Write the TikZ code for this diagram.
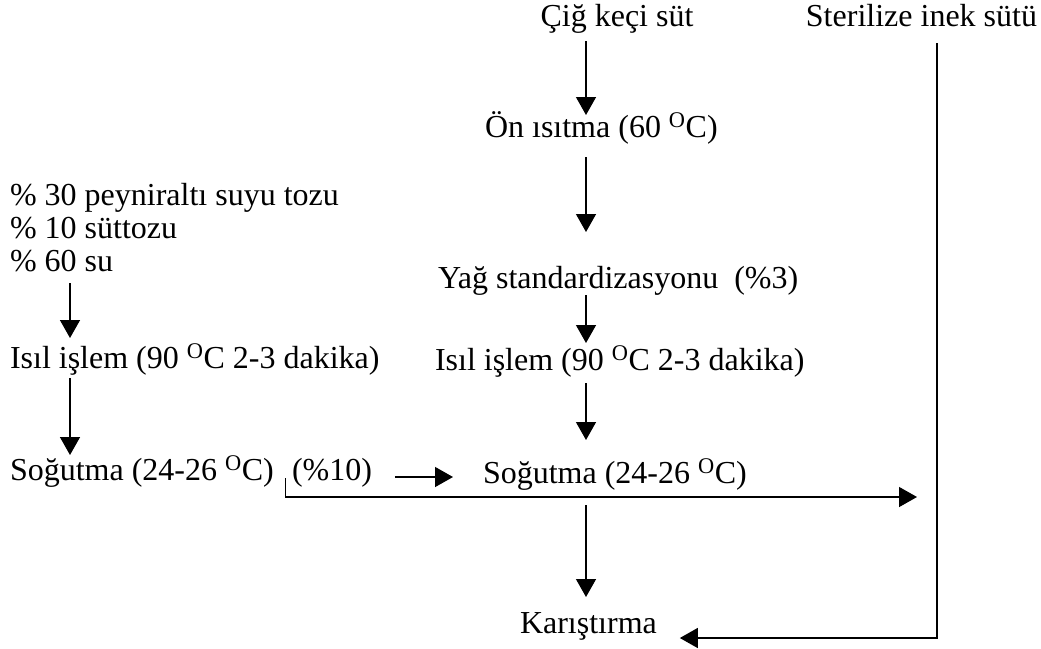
\documentclass[tikz,border=0pt]{standalone}
\usepackage{fontspec}
\setmainfont{Liberation Serif}
\usetikzlibrary{arrows.meta,calc}
\begin{document}
\begin{tikzpicture}[x=1pt,y=1pt,
  lbl/.style={inner sep=0pt,outer sep=0pt,font=\fontsize{32}{34}\selectfont},
  arr/.style={line width=1.4pt,-{Triangle[width=20pt,length=18pt]}},
  ln/.style={line width=1.4pt}]
\useasboundingbox (0,0) rectangle (1041,-648);
% column reference coordinates
\coordinate (cx) at (586,0);
\coordinate (lx) at (70,0);
\coordinate (rx) at (937,0);
% texts
\node[lbl,anchor=base] (cig) at (617,-26) {Çiğ keçi süt};
\node[lbl,anchor=base east] (ster) at (1037,-26) {Sterilize inek sütü};
\node[lbl,anchor=base west] (on) at (485,-137) {Ön ısıtma (60 \textsuperscript{O}C)};
\node[lbl,anchor=base west] (p30) at (10,-205) {\% 30 peyniraltı suyu tozu};
\node[lbl,anchor=base west] (p10) at (10,-238) {\% 10 süttozu};
\node[lbl,anchor=base west] (p60) at (10,-271) {\% 60 su};
\node[lbl,anchor=base west] (yag) at (438,-288) {Yağ standardizasyonu\ \ (\%3)};
\node[lbl,anchor=base west] (lisil) at (10,-368) {Isıl işlem (90 \textsuperscript{O}C 2-3 dakika)};
\node[lbl,anchor=base west] (misil) at (435,-370) {Isıl işlem (90 \textsuperscript{O}C 2-3 dakika)};
\node[lbl,anchor=base west] (lsog) at (10,-480) {Soğutma (24-26 \textsuperscript{O}C)};
\node[lbl,anchor=base west] (pct) at (292,-480) {(\%10)};
\node[lbl,anchor=base west] (msog) at (483,-483) {Soğutma (24-26 \textsuperscript{O}C)};
\node[lbl,anchor=base west] (kar) at (520,-633) {Karıştırma};
% central column arrows
\draw[arr] ([yshift=-15pt]cig.base -| cx) -- ([yshift=22pt]on.base -| cx);
\draw[arr] ([yshift=-20pt]on.base -| cx) -- ([yshift=56pt]yag.base -| cx);
\draw[arr] ([yshift=-7pt]yag.base -| cx) -- ([yshift=27pt]misil.base -| cx);
\draw[arr] ([yshift=-13pt]misil.base -| cx) -- ([yshift=43pt]msog.base -| cx);
\draw[arr] ([yshift=-22pt]msog.base -| cx) -- ([yshift=36pt]kar.base -| cx);
% left column arrows
\draw[arr] ([yshift=-12pt]p60.base -| lx) -- ([yshift=30pt]lisil.base -| lx);
\draw[arr] ([yshift=-10pt]lisil.base -| lx) -- ([yshift=25pt]lsog.base -| lx);
% short arrow (%10) -> Sogutma
\draw[arr] ([xshift=23pt,yshift=3pt]pct.base east) -- ([xshift=-30pt,yshift=6pt]msog.base west);
% bracket line to the right vertical line
\coordinate (tickt) at ([xshift=12pt,yshift=2pt]lsog.base east);
\coordinate (tickb) at ([yshift=-19pt]tickt);
\draw[arr] (tickt) -- (tickb) -- ($(rx |- tickb)+(-20pt,0)$);
% right vertical line to Karistirma
\draw[arr] ([yshift=-17pt]ster.base -| rx) |- ([xshift=23pt,yshift=-5pt]kar.base east);
\end{tikzpicture}
\end{document}
